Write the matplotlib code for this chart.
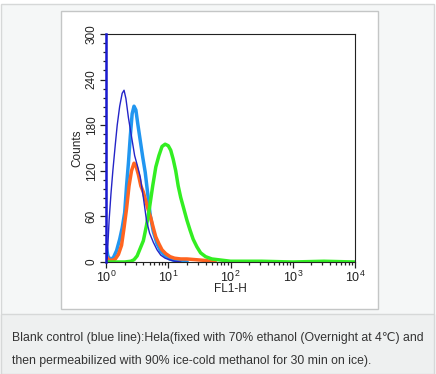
import numpy as np
import matplotlib
matplotlib.use("Agg")
import matplotlib.pyplot as plt
from matplotlib.patches import Rectangle
from matplotlib.ticker import MultipleLocator, LogLocator, NullFormatter, FixedLocator

plt.rcParams['font.family'] = ['Liberation Sans', 'DejaVu Sans']
plt.rcParams['mathtext.fontset'] = 'custom'
plt.rcParams['mathtext.rm'] = 'Liberation Sans'
plt.rcParams['mathtext.it'] = 'Liberation Sans:italic'
plt.rcParams['mathtext.bf'] = 'Liberation Sans:bold'

# ---- data (positions in decades of FL1-H, counts) ----
blank_dec = [0.0, 0.0, 0.02, 0.05, 0.08, 0.11, 0.15, 0.18, 0.22, 0.26, 0.29, 0.32, 0.36, 0.41,
             0.46, 0.51, 0.55, 0.6, 0.65, 0.7, 0.76, 0.82, 0.88, 0.95, 1.02, 1.1, 1.2]
blank_cnt = [305, 10, 5, 55, 90, 120, 155, 180, 205, 222, 226, 215, 190, 165,
             140, 125, 112, 85, 55, 38, 26, 16, 9, 5, 3, 1, 0]

lblue_dec = [0.0, 0.03, 0.07, 0.12, 0.17, 0.22, 0.26, 0.3, 0.33, 0.36, 0.39, 0.42, 0.45, 0.48,
             0.51, 0.55, 0.59, 0.63, 0.67, 0.71, 0.76, 0.82, 0.88, 0.95, 1.02, 1.1, 1.2, 1.3]
lblue_cnt = [22, 8, 3, 6, 15, 30, 45, 65, 100, 130, 165, 195, 205, 200,
             182, 160, 138, 118, 90, 62, 40, 24, 14, 8, 4, 2, 1, 0]

orange_dec = [0.0, 0.04, 0.1, 0.15, 0.2, 0.25, 0.29, 0.33, 0.37, 0.41, 0.45, 0.48, 0.52, 0.56,
              0.6, 0.64, 0.68, 0.72, 0.76, 0.8, 0.85, 0.9, 0.96, 1.03, 1.1, 1.2, 1.3, 1.45, 1.6, 1.75]
orange_cnt = [8, 3, 2, 4, 10, 22, 45, 70, 100, 120, 130, 127, 115, 100,
              92, 80, 68, 58, 45, 33, 24, 16, 11, 7, 5, 4, 4, 3, 2, 0]

green_dec = [0.0, 0.3, 0.4, 0.45, 0.5, 0.55, 0.6, 0.65, 0.7, 0.75, 0.8, 0.85, 0.9, 0.95, 1.0,
             1.04, 1.08, 1.12, 1.16, 1.2, 1.25, 1.3, 1.35, 1.4, 1.46, 1.52, 1.6, 1.7, 1.8,
             1.9, 2.0, 2.5, 3.0, 3.5, 4.0]
green_cnt = [0, 0, 1, 3, 8, 18, 28, 48, 72, 100, 125, 140, 152, 155, 153,
             147, 135, 120, 100, 85, 70, 55, 42, 30, 20, 12, 7, 4, 3,
             2, 1, 1, 0, 1, 0]

y_ticks = [0, 60, 120, 180, 240, 300]
x_ticks = [1, 10, 100, 1000, 10000]
x_labels = [r'$\mathrm{10^0}$', r'$\mathrm{10^1}$', r'$\mathrm{10^2}$', r'$\mathrm{10^3}$', r'$\mathrm{10^4}$']
caption = ["Blank control (blue line):Hela(fixed with 70% ethanol (Overnight at 4\u2103) and",
           "then permeabilized with 90% ice-cold methanol for 30 min on ice)."]

W, H = 436, 374
fig = plt.figure(figsize=(W / 100, H / 100), dpi=100)
fig.patch.set_facecolor('white')

def px_rect(x0, y0, x1, y1, **kw):
    r = Rectangle((x0 / W, 1 - y1 / H), (x1 - x0) / W, (y1 - y0) / H,
                  transform=fig.transFigure, zorder=-10, **kw)
    fig.patches.append(r)

# outer box and caption area
px_rect(0.5, 3.5, 433.5, 374, facecolor='#f5f7f7', edgecolor='#d6d8d8', lw=1)
px_rect(0.5, 313.5, 433.5, 374, facecolor='#eef0f0', edgecolor='#d6d8d8', lw=1)
# white panel
px_rect(60.5, 10.5, 377.5, 308.5, facecolor='white', edgecolor='#c4c6c6', lw=1)

# axes
ax_l, ax_r, ax_t, ax_b = 106, 355, 34, 262
ax = fig.add_axes([ax_l / W, 1 - ax_b / H, (ax_r - ax_l) / W, (ax_b - ax_t) / H])
ax.set_zorder(5)
ax.set_facecolor('white')
ax.set_xscale('log')
ax.set_xlim(1, 10000)
ax.set_ylim(0, 300)

def fl(d):
    return 10 ** np.asarray(d)

ax.plot(fl(lblue_dec), lblue_cnt, color='#2196f0', lw=2.5, solid_joinstyle='round')
ax.plot(fl(orange_dec), orange_cnt, color='#ff6420', lw=2.5, solid_joinstyle='round')
ax.plot(fl(green_dec), green_cnt, color='#33ee22', lw=2.5, solid_joinstyle='round')
ax.plot(fl(blank_dec), blank_cnt, color='#2424c8', lw=1.0, solid_joinstyle='round')
# the first channel of the blank control piles up along the left edge
ax.plot(fl(blank_dec[:2]), [0, 300], color='#1a1ad0', lw=1.8, zorder=3, clip_on=False)

for s in ax.spines.values():
    s.set_linewidth(0.8)
    s.set_color('#222222')

ax.yaxis.set_major_locator(FixedLocator(y_ticks))
ax.yaxis.set_minor_locator(MultipleLocator(12))
ax.xaxis.set_major_locator(FixedLocator(x_ticks))
ax.xaxis.set_minor_locator(LogLocator(base=10, subs=np.arange(2, 10)))
ax.xaxis.set_minor_formatter(NullFormatter())
ax.set_xticklabels(x_labels)
ax.set_yticklabels([str(v) for v in y_ticks])
ax.tick_params(axis='both', which='major', direction='out', length=4, width=0.9,
               labelsize=8.5, colors='#222222', pad=2)
ax.tick_params(axis='both', which='minor', direction='out', length=2.5, width=0.9,
               colors='#222222')
ax.tick_params(axis='x', which='major', labelsize=9, pad=1.5)
for lab in ax.get_yticklabels():
    lab.set_rotation(90)
    lab.set_va('center')
ax.set_ylabel('Counts', fontsize=8.5, labelpad=2, color='#222222')
ax.set_xlabel('FL1-H', fontsize=8.5, labelpad=-1, color='#222222')

# caption
fig.text(12 / W, 1 - 338 / H, caption[0], fontsize=8.8, color='#333333', va='center', ha='left')
fig.text(12 / W, 1 - 361 / H, caption[1], fontsize=8.8, color='#333333', va='center', ha='left')

fig.savefig('out.png', dpi=100, facecolor=fig.get_facecolor())
